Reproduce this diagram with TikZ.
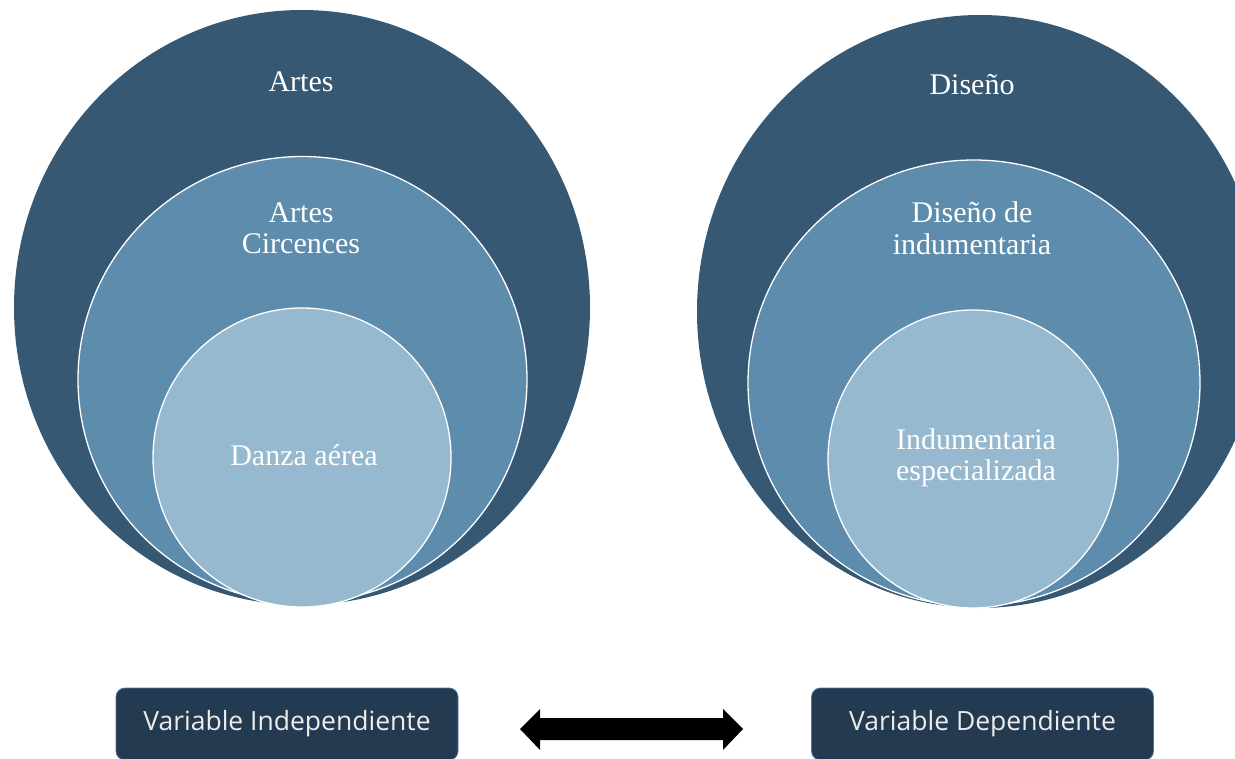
\documentclass[tikz,border=0pt]{standalone}
\usepackage{fontspec}
\setmainfont{Liberation Serif}
\newfontfamily\boxfont{Open Sans}
\usetikzlibrary{shapes.geometric}
\definecolor{ringdark}{HTML}{365873}
\definecolor{ringmid}{HTML}{5E8CAD}
\definecolor{ringlight}{HTML}{96B9CF}
\definecolor{boxfill}{HTML}{243A51}
\definecolor{boxedge}{HTML}{4C74A0}
\definecolor{boxtext}{HTML}{ECECEC}
\begin{document}
\begin{tikzpicture}[x=1pt,y=-1pt,
  ring/.style={ellipse, inner sep=0pt},
  outerring/.style={ring, fill=ringdark},
  midring/.style={ring, fill=ringmid, draw=white, line width=1.3pt},
  innerring/.style={ring, fill=ringlight, draw=white, line width=1.3pt},
  ringlabel/.style={text=white, align=center, font=\fontsize{30}{31.5}\selectfont},
  varbox/.style={fill=boxfill, draw=boxedge, line width=0.8pt, rounded corners=9pt,
    minimum width=342pt, minimum height=72pt, inner sep=0pt,
    text=boxtext, font=\boxfont\fontsize{26.5}{28}\selectfont}]
\useasboundingbox (0,0) rectangle (1235,759);

% left set of nested rings
\node[outerring, minimum width=576pt, minimum height=595pt] (artes) at (302,307.5) {};
\node[midring, minimum width=449pt, minimum height=446pt] (circo) at (302.5,379.5) {};
\node[innerring, minimum width=298pt, minimum height=299pt] (danza) at (302,457.5) {};
\node[ringlabel] (lartes) at (301,82) {Artes};
\node[ringlabel] (lcirco) at (301,228) {Artes\\Circences};
\node[ringlabel] (ldanza) at (304,455) {Danza aérea};

% right set of nested rings
\node[outerring, minimum width=566pt, minimum height=593pt] (diseno) at (980,311.5) {};
\node[midring, minimum width=452pt, minimum height=446pt] (indum) at (974,383) {};
\node[innerring, minimum width=290pt, minimum height=298pt] (espec) at (973,459) {};
\node[ringlabel] (ldiseno) at (972,85) {Diseño};
\node[ringlabel] (lindum) at (972,228) {Diseño de\\indumentaria};
\node[ringlabel] (lespec) at (976,458) {Indumentaria\\especializada};

% variable boxes
\node[varbox] (indep) at (287,724) {Variable Independiente};
\node[varbox] (dep) at (982.5,724) {Variable Dependiente};

% two-headed block arrow between the boxes
\fill[black] (520,729) -- (540,709) -- (540,718) -- (723,718) -- (723,709)
  -- (743,729) -- (723,750) -- (723,740) -- (540,740) -- (540,750) -- cycle;
\end{tikzpicture}
\end{document}
